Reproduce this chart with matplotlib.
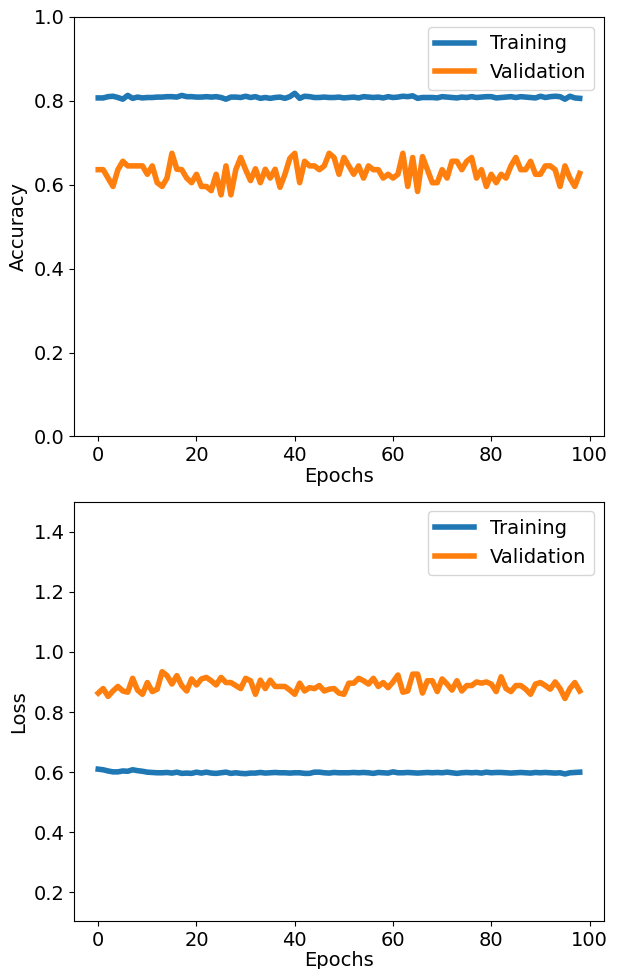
import matplotlib
matplotlib.use("Agg")
import matplotlib.pyplot as plt
import numpy as np

epochs = list(range(99))

train_acc = [0.807, 0.807, 0.810, 0.811, 0.808, 0.804, 0.813, 0.806, 0.809, 0.807,
             0.808, 0.808, 0.809, 0.809, 0.810, 0.810, 0.809, 0.813, 0.810, 0.810,
             0.809, 0.809, 0.810, 0.809, 0.810, 0.808, 0.804, 0.809, 0.809, 0.808,
             0.811, 0.808, 0.810, 0.806, 0.808, 0.806, 0.808, 0.809, 0.806, 0.810,
             0.818, 0.806, 0.811, 0.810, 0.808, 0.808, 0.809, 0.808, 0.808, 0.809,
             0.807, 0.808, 0.809, 0.807, 0.810, 0.809, 0.808, 0.809, 0.807, 0.810,
             0.808, 0.809, 0.811, 0.810, 0.812, 0.806, 0.808, 0.808, 0.808, 0.807,
             0.810, 0.809, 0.808, 0.807, 0.809, 0.808, 0.810, 0.808, 0.809, 0.810,
             0.810, 0.807, 0.808, 0.809, 0.810, 0.808, 0.810, 0.809, 0.808, 0.807,
             0.811, 0.808, 0.810, 0.811, 0.810, 0.804, 0.811, 0.807, 0.806]

val_acc = [0.636, 0.636, 0.616, 0.596, 0.636, 0.656, 0.645, 0.645, 0.645, 0.645,
           0.625, 0.645, 0.605, 0.596, 0.616, 0.675, 0.637, 0.636, 0.616, 0.605,
           0.625, 0.596, 0.596, 0.586, 0.625, 0.576, 0.645, 0.576, 0.636, 0.665,
           0.636, 0.610, 0.638, 0.605, 0.637, 0.616, 0.637, 0.594, 0.625, 0.663,
           0.675, 0.605, 0.656, 0.645, 0.645, 0.636, 0.645, 0.675, 0.665, 0.625,
           0.665, 0.645, 0.625, 0.645, 0.616, 0.645, 0.636, 0.636, 0.616, 0.625,
           0.616, 0.625, 0.675, 0.596, 0.665, 0.584, 0.667, 0.636, 0.605, 0.605,
           0.636, 0.616, 0.656, 0.656, 0.636, 0.656, 0.665, 0.616, 0.636, 0.596,
           0.625, 0.605, 0.625, 0.616, 0.645, 0.665, 0.636, 0.636, 0.656, 0.625,
           0.625, 0.645, 0.645, 0.636, 0.596, 0.645, 0.616, 0.596, 0.627]

train_loss = [0.610, 0.608, 0.604, 0.601, 0.601, 0.604, 0.603, 0.608, 0.605, 0.603,
              0.600, 0.599, 0.598, 0.598, 0.599, 0.597, 0.600, 0.596, 0.597, 0.596,
              0.600, 0.597, 0.600, 0.597, 0.596, 0.598, 0.600, 0.596, 0.598, 0.596,
              0.595, 0.597, 0.597, 0.599, 0.597, 0.598, 0.599, 0.598, 0.598, 0.597,
              0.598, 0.598, 0.596, 0.596, 0.600, 0.600, 0.598, 0.597, 0.599, 0.598,
              0.598, 0.598, 0.599, 0.598, 0.599, 0.598, 0.596, 0.599, 0.598, 0.597,
              0.601, 0.598, 0.598, 0.599, 0.598, 0.597, 0.598, 0.599, 0.598, 0.599,
              0.598, 0.600, 0.598, 0.596, 0.598, 0.599, 0.598, 0.599, 0.597, 0.600,
              0.598, 0.599, 0.599, 0.598, 0.597, 0.598, 0.599, 0.598, 0.597, 0.599,
              0.598, 0.599, 0.598, 0.597, 0.598, 0.594, 0.598, 0.599, 0.600]

val_loss = [0.863, 0.878, 0.852, 0.870, 0.885, 0.870, 0.866, 0.912, 0.873, 0.859,
            0.898, 0.868, 0.876, 0.934, 0.921, 0.893, 0.921, 0.888, 0.870, 0.910,
            0.890, 0.910, 0.915, 0.904, 0.890, 0.915, 0.898, 0.898, 0.888, 0.878,
            0.912, 0.904, 0.859, 0.906, 0.878, 0.906, 0.885, 0.885, 0.885, 0.873,
            0.859, 0.896, 0.870, 0.881, 0.878, 0.888, 0.870, 0.876, 0.878, 0.863,
            0.859, 0.896, 0.896, 0.912, 0.904, 0.893, 0.912, 0.885, 0.898, 0.881,
            0.900, 0.923, 0.866, 0.870, 0.926, 0.926, 0.863, 0.904, 0.904, 0.868,
            0.910, 0.893, 0.873, 0.904, 0.870, 0.888, 0.888, 0.900, 0.896, 0.900,
            0.893, 0.868, 0.917, 0.878, 0.868, 0.888, 0.888, 0.876, 0.859, 0.893,
            0.898, 0.888, 0.876, 0.900, 0.878, 0.845, 0.878, 0.898, 0.870]

series_labels = ["Training", "Validation"]

plt.rcParams['font.size'] = 14
fig, (ax1, ax2) = plt.subplots(2, 1, figsize=(6.18, 9.69), dpi=100)
fig.subplots_adjust(left=0.12, right=0.977, top=0.9825, bottom=0.0495, hspace=0.155)

ax1.plot(epochs, train_acc, color="#1f77b4", linewidth=4, label=series_labels[0])
ax1.plot(epochs, val_acc, color="#ff7f0e", linewidth=4, label=series_labels[1])
ax1.set_ylim(0, 1.0)
ax1.set_xlabel("Epochs", labelpad=1)
ax1.set_ylabel("Accuracy")
ax1.legend(loc="upper right")

ax2.plot(epochs, train_loss, color="#1f77b4", linewidth=4, label=series_labels[0])
ax2.plot(epochs, val_loss, color="#ff7f0e", linewidth=4, label=series_labels[1])
ax2.set_ylim(0.105, 1.5)
ax2.set_xlabel("Epochs", labelpad=1)
ax2.set_ylabel("Loss")
ax2.legend(loc="upper right")

fig.savefig("out.png", dpi=100)
